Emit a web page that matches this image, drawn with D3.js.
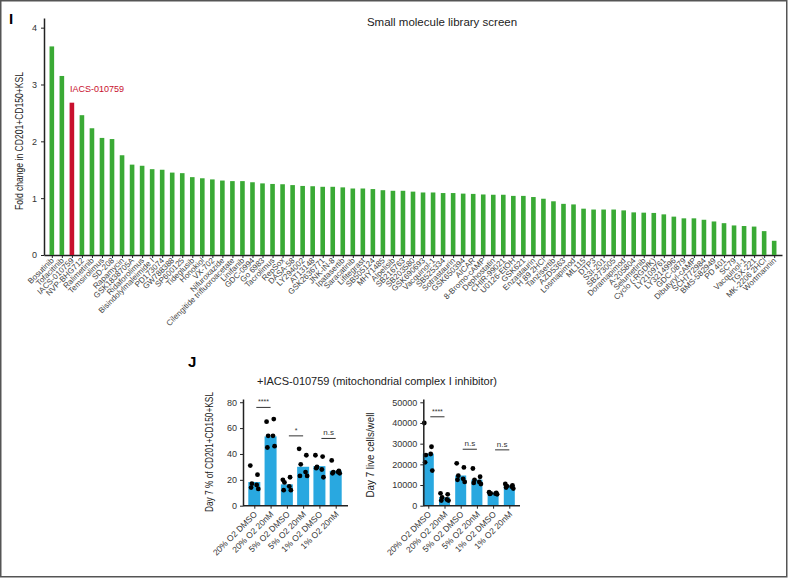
<!DOCTYPE html>
<html><head><meta charset="utf-8">
<script src="https://cdn.jsdelivr.net/npm/d3@7"></script>
<style>body{margin:0;background:#fff}svg{display:block;font-family:"Liberation Sans",Arial,sans-serif}</style>
</head><body><svg id="c" width="792" height="578"></svg>
<script>
// ---------- DATA ----------
const compounds = ["Bosutinib","Tofacitinib","IACS-010759","NVP-BHG712","Ralimetinib","Temsirolimus","SD-208","Rapamycin","GSK1838705A","Ridaforolimus","Bisindolylmaleimide I","PD173074","GW788388","SP600125","Tideglusib","Honokiol","VX-702","Nifuroxazide","Cilengitide trifluoroacetate","Linifanib","GDC-0994","Go 6983","Tacrolimus","RepSox","DASA-58","LY294002","AT13148","GSK2636771","JNK-IN-8","Ipatasertib","Saracatinib","Lifitegrast","SB505124","MHY1485","Alpelisib","SB216763","SB203580","GSK690693","Vacquinol-1","SB525334","Sotrastaurin","GSK650394","AICAR","8-Bromo-cAMP","Dephostatin","CHIR-99021","U0126-EtOH","GSK621","Enzastaurin","H 89 2HCl","Tanzisertib","AZD5363","Losmapimod","ML115","DTP3","S3I-201","SB273005","Doramapimod","A-205804","Selumetinib","Cyclo (-RGDfK)","LY2109761","LY3214996","GDC-0879","Dibutyryl-cAMP","SCH772984","BMS-582949","PD 401","SC79","Vacquinol-1","TGX-221","MK-2206 2HCl","Wortmannin"];
const foldChange = [3.67,3.15,2.68,2.46,2.23,2.06,2.04,1.755,1.59,1.57,1.51,1.50,1.45,1.44,1.37,1.35,1.33,1.31,1.30,1.30,1.28,1.26,1.25,1.245,1.23,1.215,1.21,1.20,1.20,1.19,1.17,1.17,1.16,1.14,1.13,1.13,1.115,1.10,1.10,1.09,1.09,1.08,1.075,1.065,1.06,1.06,1.04,1.04,1.02,0.99,0.945,0.90,0.89,0.815,0.80,0.80,0.80,0.785,0.75,0.745,0.74,0.715,0.675,0.645,0.645,0.62,0.59,0.56,0.52,0.51,0.50,0.42,0.25];
const highlight = "IACS-010759";
const foldTicks = [0,1,2,3,4];

const groups = ["20% O2 DMSO","20% O2 20nM","5% O2 DMSO","5% O2 20nM","1% O2 DMSO","1% O2 20nM"];
const pctMean = [18.3,53.6,16.5,30.1,30.6,27.0];
const pctPoints = [[31,24,17,16,14,13],[65,67,54,54,45,46],[20,22,18,15,12,12],[44,39,32,26,23,23],[39,38,30,28,29,22],[35,27,26,26,25,25]];
const pctTicks = [0,20,40,60,80];
const cellMean = [25200,4100,14600,12600,6300,9800];
const cellPoints = [[40000,28500,24500,25000,21000,17000],[6000,5500,4000,3000,2500,2500],[20500,18500,14500,13000,12500,11500],[18000,14000,12500,11500,11000,10500],[6500,6200,6000,5800,5700,5500],[10500,9800,9500,9200,8800,8300]];
const cellTicks = [0,10000,20000,30000,40000,50000];
const pctSig = [{a:0,b:1,t:"****",h:76},{a:2,b:3,t:"*",h:54},{a:4,b:5,t:"n.s",h:52}];
const cellSig = [{a:0,b:1,t:"****",h:43000},{a:2,b:3,t:"n.s",h:27300},{a:4,b:5,t:"n.s",h:27000}];

// ---------- DRAW ----------
const svg = d3.select("#c");
const AX = "#222";
const FF = "Liberation Sans, Arial, sans-serif";
svg.append("rect").attr("x",0.75).attr("y",0.75).attr("width",786).attr("height",576)
  .attr("fill","none").attr("stroke","#555").attr("stroke-width",1.5);

// Panel I
svg.append("text").attr("x",9).attr("y",24).attr("font-size",15).attr("font-weight","bold").text("I");
svg.append("text").attr("x",442).attr("y",26).attr("text-anchor","middle").attr("font-size",11.5).attr("fill","#222").text("Small molecule library screen");

const x = d3.scalePoint().domain(d3.range(compounds.length)).range([44,782]).padding(0.78);
const y = d3.scaleLinear().domain([0,4.17]).range([255,18]);

const gx = svg.append("g").attr("transform","translate(0,255)")
  .call(d3.axisBottom(x).tickSize(3).tickSizeOuter(0).tickFormat(i=>compounds[i]));
gx.select(".domain").attr("stroke",AX).attr("stroke-width",1.5);
gx.selectAll(".tick line").attr("stroke",AX).attr("stroke-width",1);
gx.selectAll(".tick text").attr("font-size",8).attr("fill","#444").attr("font-family",FF)
  .attr("text-anchor","end").attr("dy",0).attr("y",0)
  .attr("transform","translate(2,6) rotate(-45)");

const gy = svg.append("g").attr("transform","translate(44,0)")
  .call(d3.axisLeft(y).tickValues(foldTicks).tickSize(3).tickSizeOuter(0).tickFormat(d3.format("d")));
gy.select(".domain").attr("stroke",AX).attr("stroke-width",1.5);
gy.selectAll(".tick line").attr("stroke",AX);
gy.selectAll(".tick text").attr("font-size",9).attr("fill","#333").attr("font-family",FF).attr("x",-7);

svg.append("g").selectAll("rect").data(foldChange).join("rect")
  .attr("x",(d,i)=>x(i)-2.3).attr("width",4.6)
  .attr("y",d=>y(d)).attr("height",d=>y(0)-y(d))
  .attr("fill",(d,i)=>compounds[i]===highlight?"#c8102e":"#3aaa35");

const hi = compounds.indexOf(highlight);
svg.append("text").attr("x",x(hi)-2).attr("y",y(foldChange[hi-1])+16).attr("font-size",9).attr("fill","#c8102e").text(highlight);

svg.append("text").attr("transform","translate(23,141) rotate(-90)").attr("text-anchor","middle")
  .attr("font-size",10).attr("fill","#222").attr("textLength",138).attr("lengthAdjust","spacingAndGlyphs")
  .text("Fold change in CD201+CD150+KSL");

// Panel J
svg.append("text").attr("x",188).attr("y",367).attr("font-size",15).attr("font-weight","bold").text("J");
svg.append("text").attr("x",377).attr("y",385).attr("text-anchor","middle").attr("font-size",11).attr("fill","#222")
  .text("+IACS-010759 (mitochondrial complex I inhibitor)");

function subChart(opt){
  const {x0,x1,c0,c1,ymax,ticks,means,points,sig,label,labX,labLen,bw,fmt} = opt;
  const xs = d3.scalePoint().domain(groups).range([c0,c1]);
  const ys = d3.scaleLinear().domain([0,ymax]).range([505.7,399]);
  const g = svg.append("g");
  g.selectAll("rect").data(means).join("rect")
    .attr("x",(d,i)=>xs(groups[i])-bw/2).attr("width",bw)
    .attr("y",d=>ys(d)).attr("height",d=>ys(0)-ys(d)).attr("fill","#29a8e0");
  points.forEach((arr,gi)=>{
    g.append("g").selectAll("circle").data(arr).join("circle")
      .attr("cx",(d,k)=>xs(groups[gi])+(k%2===0?-3.2:3.2)+((k%3)-1)*0.8)
      .attr("cy",d=>ys(d)).attr("r",2.4).attr("fill","#000");
  });
  const ax = g.append("g").attr("transform","translate(0,505.7)")
    .call(d3.axisBottom(xs).tickSize(3).tickSizeOuter(0));
  ax.select(".domain").remove();
  ax.selectAll(".tick line").attr("stroke",AX);
  ax.selectAll(".tick text").attr("font-size",8.5).attr("fill","#333").attr("font-family",FF)
    .attr("text-anchor","end").attr("y",0).attr("dy",0).attr("transform","translate(3,9) rotate(-45)");
  g.append("line").attr("x1",x0).attr("x2",x1).attr("y1",505.7).attr("y2",505.7).attr("stroke",AX).attr("stroke-width",1.5);
  const ay = g.append("g").attr("transform",`translate(${x0},0)`)
    .call(d3.axisLeft(ys).tickValues(ticks).tickSize(3).tickSizeOuter(0).tickFormat(fmt));
  ay.select(".domain").attr("stroke",AX).attr("stroke-width",1.5);
  ay.selectAll(".tick line").attr("stroke",AX);
  ay.selectAll(".tick text").attr("font-size",9).attr("fill","#333").attr("font-family",FF).attr("x",-6);
  sig.forEach(s=>{
    const a = xs(groups[s.a]), b = xs(groups[s.b]);
    const ly = ys(s.h);
    g.append("line").attr("x1",a+2).attr("x2",b).attr("y1",ly).attr("y2",ly).attr("stroke","#333").attr("stroke-width",1);
    g.append("text").attr("x",(a+b)/2+1).attr("y",ly-3).attr("text-anchor","middle")
      .attr("font-size",s.t==="n.s"?8:7).attr("fill","#333").text(s.t);
  });
  svg.append("text").attr("transform",`translate(${labX},${opt.labY}) rotate(-90)`).attr("text-anchor","middle")
    .attr("font-size",10).attr("fill","#222").attr("textLength",labLen).attr("lengthAdjust","spacingAndGlyphs").text(label);
}

subChart({x0:243,x1:348,c0:254.3,c1:335.7,ymax:82.5,ticks:pctTicks,means:pctMean,points:pctPoints,sig:pctSig,
  label:"Day 7 % of CD201+CD150+KSL",labX:213,labY:452,labLen:120,bw:12,fmt:d3.format("d")});
subChart({x0:423.3,x1:520,c0:428.3,c1:509.3,ymax:51600,ticks:cellTicks,means:cellMean,points:cellPoints,sig:cellSig,
  label:"Day 7 live cells/well",labX:374,labY:455,labLen:85,bw:11,fmt:d3.format("d")});
</script></body></html>
